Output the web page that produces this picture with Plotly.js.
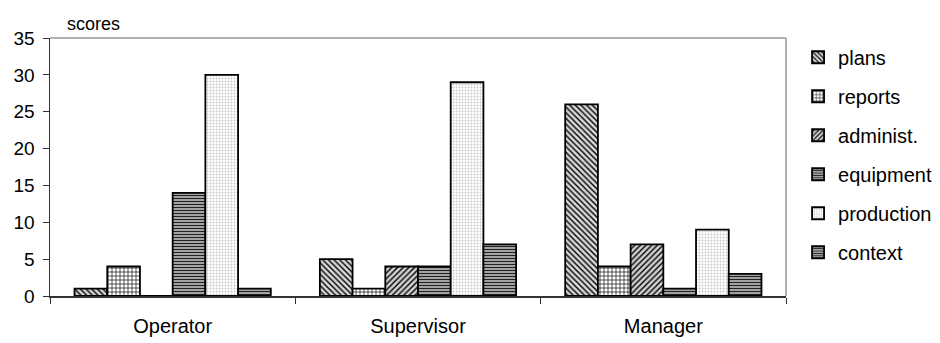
<!DOCTYPE html>
<html><head><meta charset="utf-8">
<script src="https://cdn.plot.ly/plotly-3.0.1.min.js"></script>
<style>body{margin:0;background:#fff}#c{width:940px;height:343px}</style>
</head><body><div id="c"></div>
<script>
const categories = ["Operator", "Supervisor", "Manager"];
const seriesNames = ["plans", "reports", "administ.", "equipment", "production", "context"];
const plans = [1, 5, 26];
const reports = [4, 1, 4];
const administ = [0, 4, 7];
const equipment = [14, 4, 1];
const production = [30, 29, 9];
const context = [1, 7, 3];
const yTicks = [0, 5, 10, 15, 20, 25, 30, 35];

const values = [plans, reports, administ, equipment, production, context];
const patterns = [
  {shape: "\\", fgcolor: "#000", bgcolor: "#d8d8d8", size: 4, solidity: 0.35},
  {shape: "+", fgcolor: "#000", bgcolor: "#fff", size: 4, solidity: 0.3},
  {shape: "/", fgcolor: "#000", bgcolor: "#d0d0d0", size: 4, solidity: 0.35},
  {shape: "-", fgcolor: "#222", bgcolor: "#b0b0b0", size: 3, solidity: 0.4},
  {shape: ".", fgcolor: "#c8c8c8", bgcolor: "#fff", size: 3, solidity: 0.3},
  {shape: "-", fgcolor: "#222", bgcolor: "#b0b0b0", size: 3, solidity: 0.4}
];
const traces = seriesNames.map((n, i) => ({
  type: "bar", name: n, x: categories, y: values[i], legendgroup: "g" + i,
  marker: {color: "#fff", line: {color: "#000", width: 1.8}, pattern: patterns[i]}
}));

const layout = {
  width: 940, height: 343,
  margin: {l: 50, r: 154, t: 38, b: 47, autoexpand: false},
  paper_bgcolor: "#fff", plot_bgcolor: "#fff",
  font: {family: "Liberation Sans, Arial, sans-serif", size: 20, color: "#000"},
  barmode: "group", bargap: 0.2, bargroupgap: 0,
  showlegend: true,
  legend: {xref: "container", yref: "container", x: 0.849, xanchor: "left", y: 0.89, yanchor: "top",
           maxheight: 320, tracegroupgap: 10, font: {size: 20}, itemwidth: 30, bgcolor: "rgba(0,0,0,0)"},
  xaxis: {type: "category", showline: true, linecolor: "#333", linewidth: 1.5,
          ticks: "outside", tickson: "boundaries", ticklen: 6, tickcolor: "#333",
          showgrid: false, zeroline: false, tickfont: {size: 20}, ticklabelstandoff: 11},
  yaxis: {range: [0, 35], tickvals: yTicks, showline: true, linecolor: "#333", linewidth: 1.5,
          ticks: "outside", ticklen: 6, tickcolor: "#333", showgrid: false, zeroline: false,
          tickfont: {size: 19}, ticklabelstandoff: 4},
  shapes: [
    {type: "line", xref: "paper", yref: "paper", x0: 0, x1: 1, y0: 1, y1: 1, line: {color: "#999", width: 1.5}},
    {type: "line", xref: "paper", yref: "paper", x0: 1, x1: 1, y0: 0, y1: 1, line: {color: "#999", width: 1.5}}
  ],
  annotations: [
    {text: "scores", xref: "paper", yref: "paper", x: 0.02, y: 1, xanchor: "left", yanchor: "bottom",
     yshift: 2, showarrow: false, font: {size: 18}}
  ]
};
Plotly.newPlot("c", traces, layout, {displayModeBar: false, staticPlot: true});
</script></body></html>
